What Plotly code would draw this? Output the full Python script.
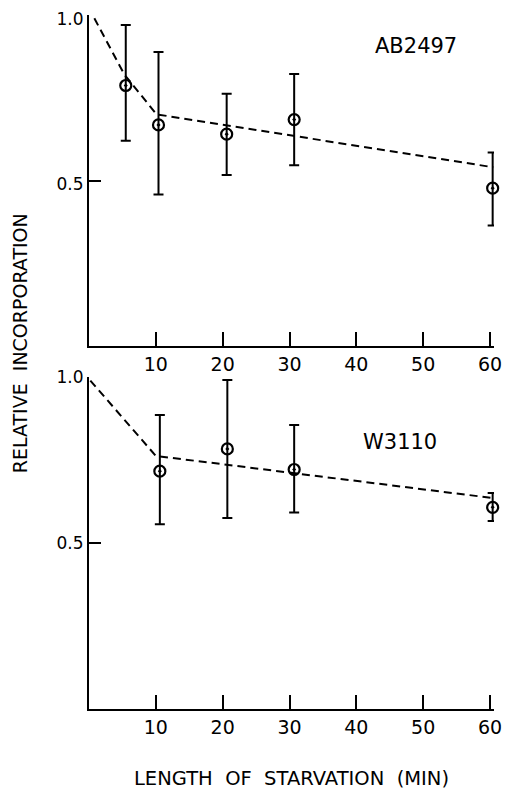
import plotly.graph_objects as go

# ---- data ----
ab_time = [5.5, 10.4, 20.6, 30.7, 60.4]
ab_value = [0.787, 0.668, 0.640, 0.684, 0.477]
ab_err_plus = [0.183, 0.220, 0.122, 0.138, 0.108]
ab_err_minus = [0.167, 0.210, 0.123, 0.138, 0.113]
ab_fit_time = [0.8, 5.3, 10.1, 60.5]
ab_fit_value = [0.99, 0.82, 0.70, 0.54]

w_time = [10.6, 20.7, 30.7, 60.4]
w_value = [0.717, 0.784, 0.722, 0.608]
w_err_plus = [0.169, 0.208, 0.134, 0.043]
w_err_minus = [0.160, 0.208, 0.130, 0.041]
w_fit_time = [0.2, 10.0, 60.4]
w_fit_value = [0.99, 0.763, 0.636]

x_ticks = [10, 20, 30, 40, 50, 60]
x_ticktext = ["10", "20", "30", "40", "50", "60"]
y_ticks = [0.5, 1.0]
y_ticktext = ["0.5", "1.0"]

FONT = "DejaVu Sans"
fig = go.Figure()

def add_panel(fig, xa, ya, t, v, ep, em, ft, fv):
    fig.add_trace(go.Scatter(x=ft, y=fv, mode="lines", xaxis=xa, yaxis=ya,
                             line=dict(color="black", width=2, dash="8px,5px"),
                             showlegend=False, hoverinfo="skip", cliponaxis=False))
    fig.add_trace(go.Scatter(x=t, y=v, mode="markers", xaxis=xa, yaxis=ya,
                             marker=dict(symbol="circle-open-dot", size=11, color="black",
                                         line=dict(color="black", width=2.2)),
                             error_y=dict(type="data", symmetric=False, array=ep, arrayminus=em,
                                          thickness=2, width=5, color="black"),
                             showlegend=False, cliponaxis=False))

add_panel(fig, "x", "y", ab_time, ab_value, ab_err_plus, ab_err_minus, ab_fit_time, ab_fit_value)
add_panel(fig, "x2", "y2", w_time, w_value, w_err_plus, w_err_minus, w_fit_time, w_fit_value)

xcommon = dict(range=[0, 60.6], showline=True, linecolor="black", linewidth=2,
               ticks="inside", ticklen=14, tickwidth=2, tickcolor="black",
               tickvals=x_ticks, ticktext=x_ticktext, showgrid=False, zeroline=False,
               automargin=False, ticklabeloverflow="allow",
               tickfont=dict(family=FONT, size=19, color="black"))
ycommon = dict(range=[0, 1.0], showline=True, linecolor="black", linewidth=2,
               ticks="inside", ticklen=12, tickwidth=2, tickcolor="black",
               tickvals=y_ticks, ticktext=y_ticktext, showgrid=False, zeroline=False,
               automargin=False, ticklabeloverflow="allow",
               tickfont=dict(family=FONT, size=17, color="black"))

fig.update_layout(
    width=503, height=784,
    margin=dict(l=81, r=17, t=7, b=83),
    paper_bgcolor="white", plot_bgcolor="white",
    xaxis=dict(domain=[0, 1], anchor="y", **xcommon),
    yaxis=dict(domain=[0.523, 1.0], anchor="x", ticklabelshift=4, **ycommon),
    xaxis2=dict(domain=[0, 1], anchor="y2", **xcommon),
    yaxis2=dict(domain=[0.0, 0.478], anchor="x2", **ycommon),
    annotations=[
        dict(text="AB2497", xref="x", yref="y", x=49, y=0.905, showarrow=False,
             font=dict(family=FONT, size=21, color="black")),
        dict(text="W3110", xref="x2", yref="y2", x=46.5, y=0.805, showarrow=False,
             font=dict(family=FONT, size=21, color="black")),
        dict(text="RELATIVE  INCORPORATION", xref="paper", yref="paper", x=0, y=0.527,
             xshift=-69, textangle=-90, showarrow=False, xanchor="center", yanchor="middle",
             font=dict(family=FONT, size=19, color="black")),
        dict(text="LENGTH  OF  STARVATION  (MIN)", xref="paper", yref="paper", x=0.5, y=0,
             yshift=-69, showarrow=False, xanchor="center", yanchor="middle",
             font=dict(family=FONT, size=19.5, color="black")),
    ],
)

fig.write_html("out.html")
